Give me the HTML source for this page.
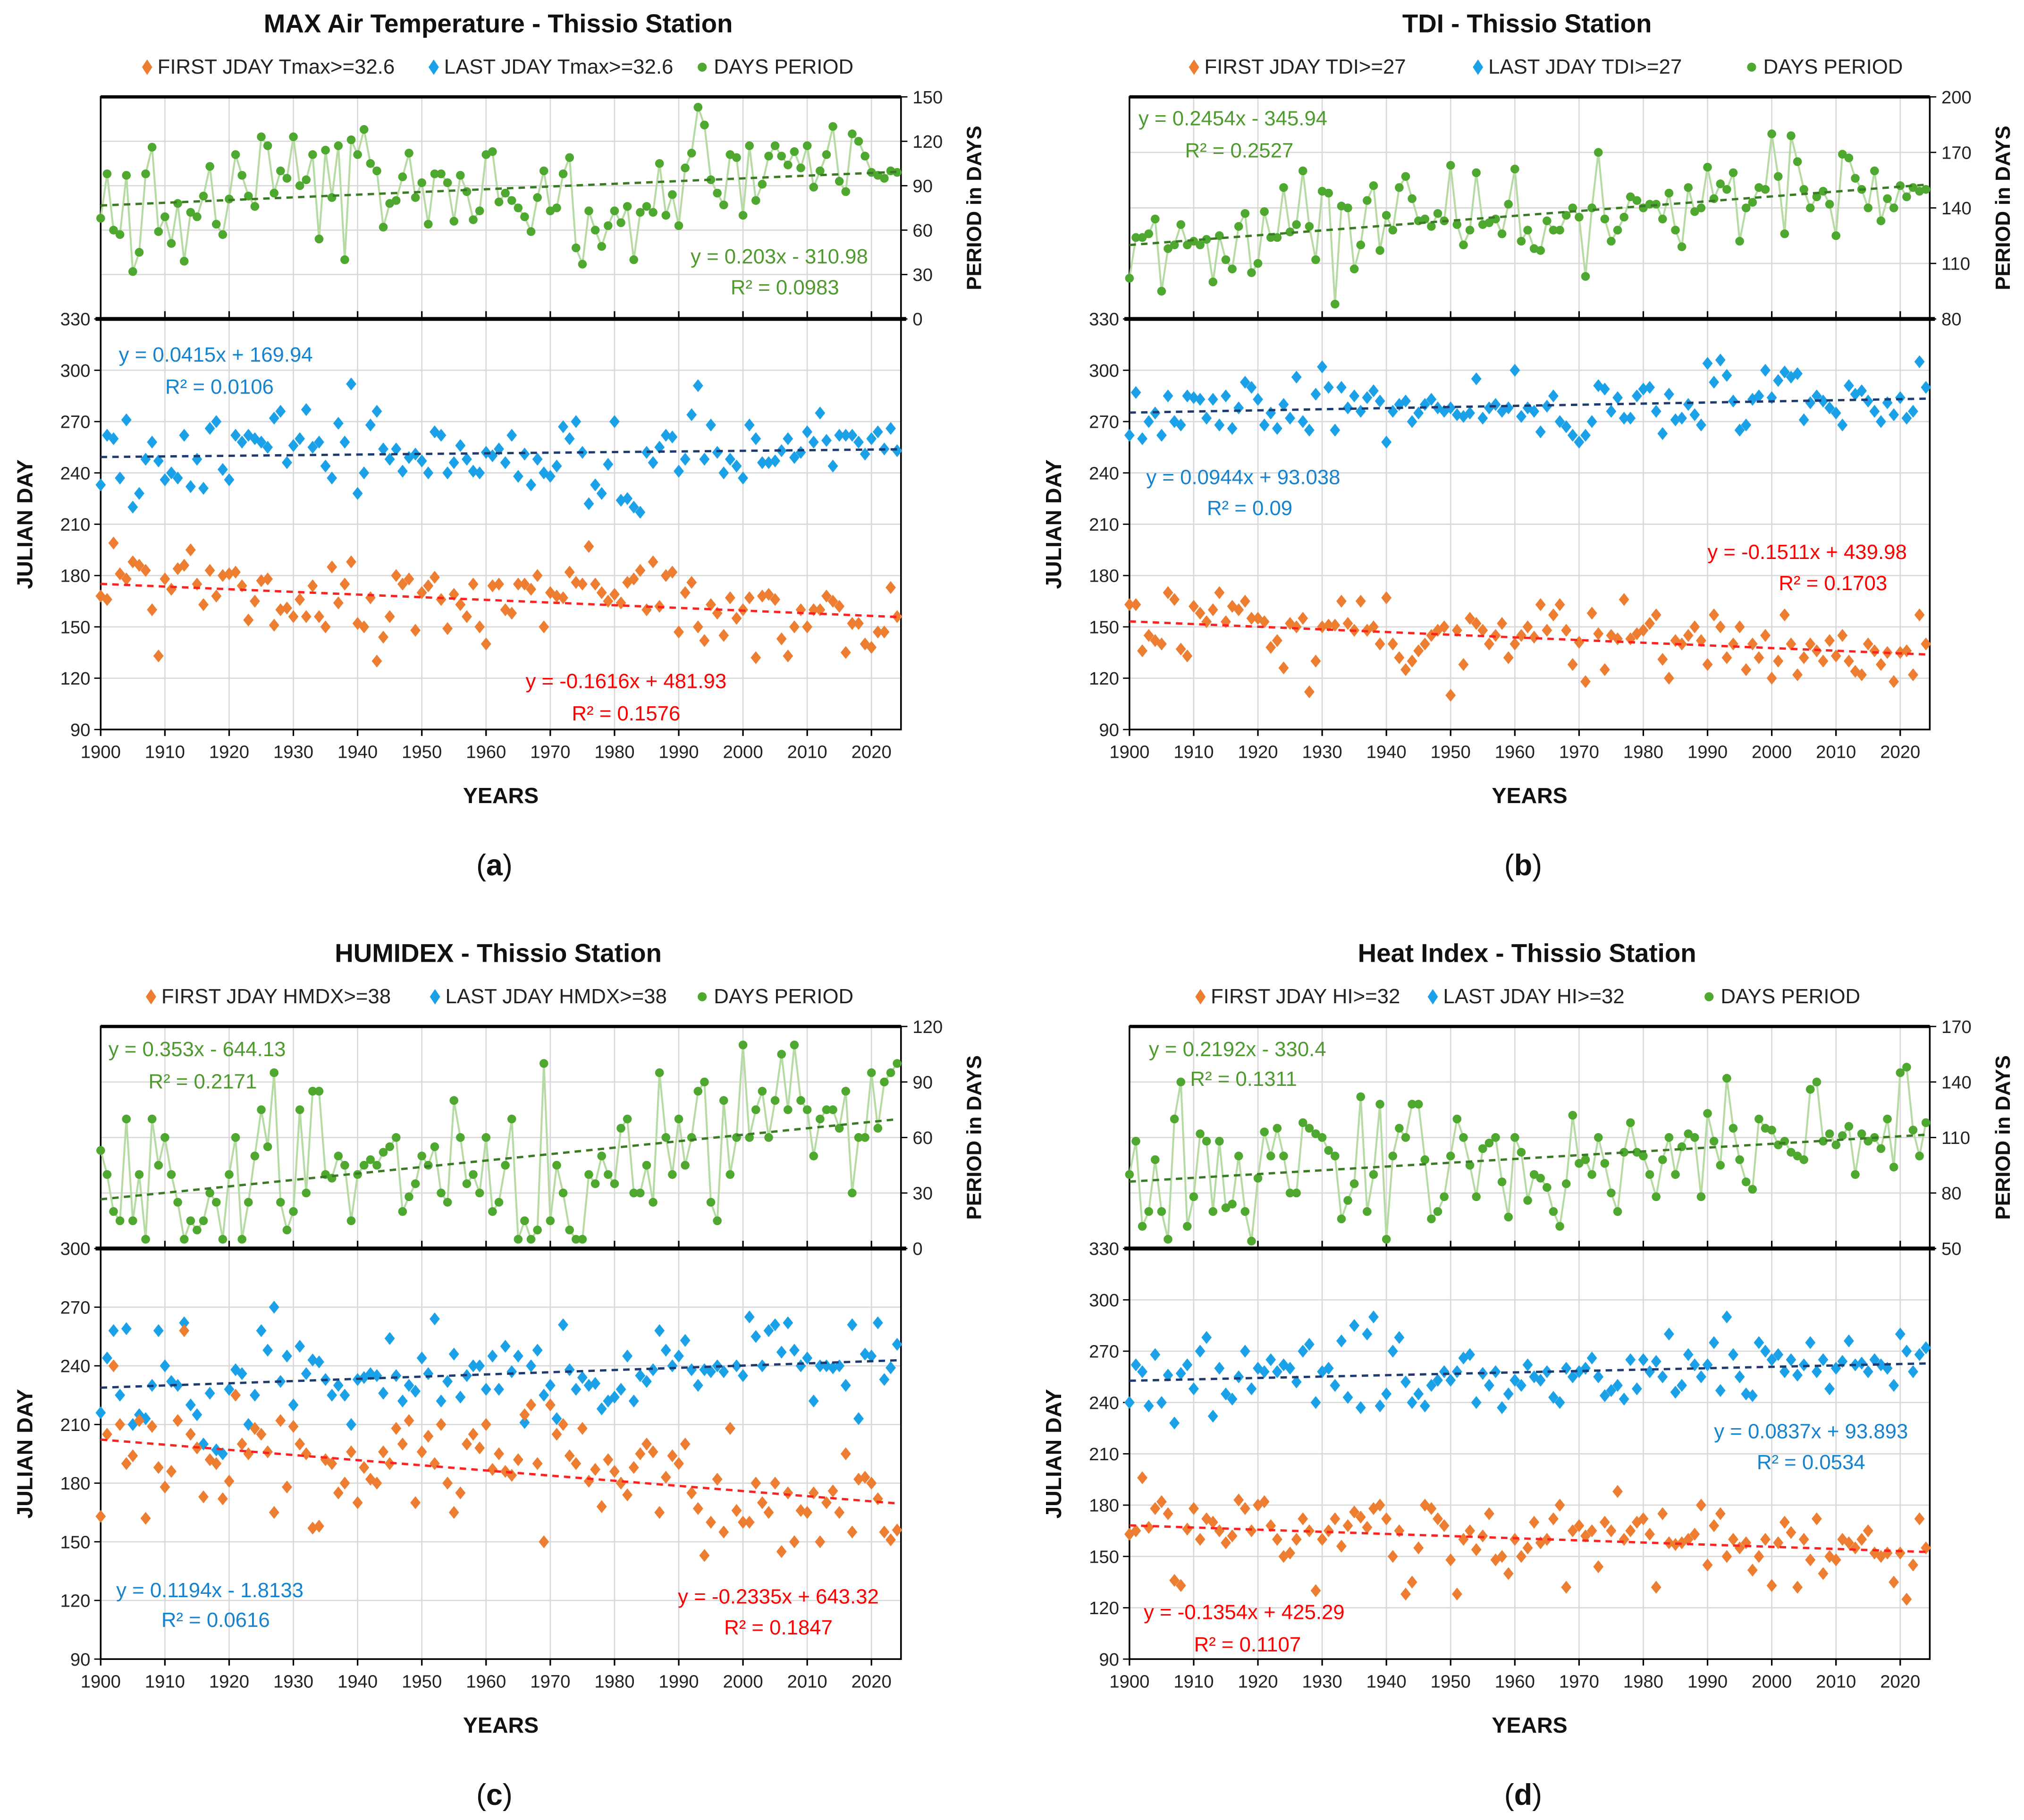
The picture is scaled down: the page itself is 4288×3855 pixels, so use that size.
<!DOCTYPE html>
<html><head><meta charset="utf-8"><style>
html,body{margin:0;padding:0;background:#fff}
svg{display:block}
text{font-family:"Liberation Sans",sans-serif}
</style></head><body>
<svg id="fig" width="4288" height="3855" viewBox="0 0 1568 1409.6" xmlns="http://www.w3.org/2000/svg"></svg>
<script>
// ---------- DATA (years 1900..2024) ----------
const years = Array.from({length:125},(_,i)=>1900+i);
const xTicks = [1900,1910,1920,1930,1940,1950,1960,1970,1980,1990,2000,2010,2020];

const aFirst = [168,166,199,181,178,188,186,183,160,133,178,172,184,186,195,175,163,183,168,180,181,182,174,154,165,177,178,151,160,161,156,166,156,174,156,150,185,164,175,188,152,150,167,130,144,156,180,175,178,148,170,174,179,166,149,169,163,156,175,150,140,174,175,160,158,175,175,172,180,150,170,168,167,182,176,175,197,175,170,165,169,164,176,178,183,160,188,162,180,182,147,170,176,150,142,163,158,145,167,155,160,167,132,168,169,166,143,133,150,160,150,160,160,168,165,162,135,152,152,140,138,147,147,173,156];
const aLast = [233,262,260,237,271,220,228,248,258,247,236,240,237,262,232,248,231,266,270,242,236,262,258,262,260,258,255,272,276,246,256,260,277,255,258,244,237,269,258,292,228,240,268,276,254,248,254,241,249,251,247,240,264,262,240,246,256,248,241,240,252,250,254,246,262,238,251,233,248,240,238,244,267,260,270,252,222,233,228,245,270,224,225,220,217,252,246,255,262,261,241,248,274,291,248,268,252,240,248,244,237,268,260,246,246,247,253,260,249,252,264,258,275,259,244,262,262,262,258,251,260,264,254,266,253];
const aPeriod = [68,98,60,57,97,32,45,98,116,59,69,51,78,39,72,69,83,103,64,57,81,111,97,83,76,123,117,85,100,95,123,90,94,111,54,114,82,117,40,121,111,128,105,100,62,78,80,96,112,82,92,64,98,98,92,66,97,86,67,73,111,113,79,85,80,75,69,59,82,100,73,75,98,109,48,37,73,60,49,63,73,65,76,40,72,76,72,105,70,84,63,102,112,143,131,94,85,77,111,109,70,117,80,91,110,117,110,104,113,102,117,89,100,111,130,93,86,125,120,110,99,97,95,100,99];

const bFirst = [163,163,136,145,142,140,170,166,137,133,162,158,153,160,170,153,162,160,165,155,155,153,138,142,126,152,150,155,112,130,150,151,151,165,152,148,165,148,150,140,167,140,132,125,130,136,140,145,148,150,110,148,128,155,152,148,140,145,152,132,140,145,150,144,163,148,157,163,148,128,141,118,158,146,125,145,143,166,143,146,148,152,157,131,120,142,140,145,150,142,128,157,150,132,140,150,125,140,132,145,120,130,157,140,122,132,140,136,130,142,133,145,130,124,122,140,136,128,135,118,135,136,122,157,140];
const bLast = [262,287,260,270,275,262,285,270,268,285,284,283,272,283,268,285,266,278,293,290,283,268,275,266,280,272,296,270,265,286,302,290,265,290,278,285,276,284,288,282,258,276,280,282,270,275,280,283,278,276,278,274,273,275,295,272,278,280,276,278,300,273,278,276,264,279,285,270,267,262,258,262,270,291,289,276,284,272,272,285,289,290,276,263,286,271,272,280,274,268,304,293,306,297,282,265,268,283,285,300,284,294,299,296,298,271,281,285,282,278,275,268,291,286,288,282,276,270,281,274,284,272,276,305,290];
const bPeriod = [102,124,124,126,134,95,118,120,131,120,122,120,123,100,125,112,107,130,137,105,110,138,124,124,151,127,131,160,130,112,149,148,88,141,140,107,120,144,152,117,136,128,151,157,145,133,134,130,137,133,163,131,120,128,159,131,132,134,126,142,161,122,128,118,117,133,128,128,136,140,135,103,140,170,134,122,128,135,146,144,140,142,142,134,148,128,119,151,138,140,162,145,153,150,159,122,140,143,151,150,180,157,126,179,165,150,140,146,149,142,125,169,167,156,150,140,160,133,145,140,152,146,151,149,150];

const cFirst = [163,205,240,210,190,194,212,162,209,188,178,186,212,258,205,198,173,192,190,172,181,225,200,195,208,205,196,165,212,178,209,200,195,157,158,192,190,175,180,196,170,188,182,180,196,190,208,200,212,170,196,204,190,210,180,165,175,200,205,198,210,187,195,186,184,192,215,220,190,150,220,205,210,194,190,208,181,187,168,192,186,180,174,188,195,200,196,165,183,194,190,200,175,167,143,160,182,155,208,166,160,160,180,170,165,180,145,175,150,166,165,175,150,170,176,165,195,155,182,183,180,172,155,151,156];
const cLast = [216,244,258,225,259,210,215,213,230,258,240,232,230,262,220,215,200,226,197,195,228,238,236,210,225,258,248,270,232,245,220,250,236,243,242,233,225,230,225,210,233,234,236,235,226,254,235,222,230,227,244,236,264,222,232,246,224,235,240,240,228,245,228,250,237,245,211,240,248,225,230,213,261,238,228,234,230,231,218,222,224,228,245,222,235,232,238,258,248,240,245,253,238,230,238,237,240,237,208,240,235,265,255,240,258,261,247,262,248,240,244,222,240,240,239,240,230,261,213,246,245,262,233,239,251];
const cPeriod = [53,40,20,15,70,15,40,5,70,45,60,40,25,5,15,10,15,30,25,5,40,60,5,25,50,75,55,95,25,10,20,75,30,85,85,40,38,50,45,15,40,45,48,45,52,55,60,20,28,35,50,45,55,30,25,80,60,35,40,30,60,20,25,45,70,5,15,5,10,100,15,45,30,10,5,5,40,35,50,40,35,65,70,30,30,45,25,95,60,40,70,45,60,85,90,25,15,80,40,60,110,60,75,85,60,80,105,75,110,80,75,50,70,75,75,65,85,30,60,60,95,65,90,95,100];

const dFirst = [163,165,196,167,178,182,175,136,133,166,178,160,172,170,165,158,162,183,178,165,180,182,168,160,150,152,160,172,165,130,160,165,172,156,168,176,173,167,178,180,172,150,165,128,135,155,180,178,172,168,148,128,160,165,154,162,175,148,150,140,160,150,155,170,158,160,172,180,132,165,168,162,165,144,170,165,188,160,165,170,172,163,132,175,158,157,158,160,163,180,145,168,175,150,160,155,158,142,150,160,133,158,170,164,132,160,148,172,140,150,148,160,158,155,160,165,152,150,152,135,152,125,145,172,155];
const dLast = [240,262,258,238,268,240,256,228,257,262,248,270,278,232,260,245,242,255,270,248,260,258,265,258,262,260,252,270,274,240,258,260,250,276,243,285,237,280,290,238,245,270,278,252,240,245,238,250,253,258,253,258,266,268,240,257,250,258,237,245,253,250,262,255,253,258,243,240,260,255,258,260,266,255,244,247,250,242,265,248,265,258,264,255,280,246,250,268,262,255,262,275,247,290,268,255,245,244,275,270,265,268,258,265,256,262,275,258,265,248,260,264,276,262,263,258,265,262,260,250,280,270,258,268,272];
const dPeriod = [90,108,62,70,98,70,55,120,140,62,78,112,108,70,108,72,74,100,70,54,88,113,100,115,100,80,80,118,115,112,110,103,100,66,76,85,132,70,90,128,55,100,115,110,128,128,98,66,70,78,100,120,110,95,78,104,107,110,86,67,110,102,76,90,88,83,70,62,85,122,96,98,90,110,96,80,70,102,118,102,100,90,78,98,110,90,105,112,110,78,123,108,95,142,115,98,86,82,120,115,114,106,108,102,100,98,136,140,108,112,106,111,116,90,112,108,110,104,120,94,145,148,114,100,118];

const aLeftTicks=[90,120,150,180,210,240,270,300,330], aRightTicks=[0,30,60,90,120,150];
const bLeftTicks=[90,120,150,180,210,240,270,300,330], bRightTicks=[80,110,140,170,200];
const cLeftTicks=[90,120,150,180,210,240,270,300], cRightTicks=[0,30,60,90,120];
const dLeftTicks=[90,120,150,180,210,240,270,300,330], dRightTicks=[50,80,110,140,170];

// ---------- RENDER ----------
const NS="http://www.w3.org/2000/svg";
const svg=document.getElementById('fig');
function el(tag,attrs,parent){const e=document.createElementNS(NS,tag);for(const k in attrs)e.setAttribute(k,attrs[k]);(parent||svg).appendChild(e);return e;}
function txt(s,attrs,parent){const e=el('text',attrs,parent);e.textContent=s;return e;}
function reg(xs,ys){const n=xs.length;let sx=0,sy=0,sxx=0,sxy=0;for(let i=0;i<n;i++){sx+=xs[i];sy+=ys[i];sxx+=xs[i]*xs[i];sxy+=xs[i]*ys[i];}const m=(n*sxy-sx*sy)/(n*sxx-sx*sx);const b=(sy-m*sx)/n;return {m,b};}

const ORANGE='#ED7D31',BLUE='#1BA1E8',GREEN='#4EA72E',LGREEN='#B5DBA3';

function panel(cfg){
  const g=el('g',{});
  
  
  const ox=cfg.ox, oy=cfg.oy;
  const L=78+ox, R=698+ox, T=75+oy, M=247+oy, B=565+oy;
  const xS=y=>L+(y-1900)*(R-L)/124.6;
  const yL=v=>B-(v-cfg.left[0])*(B-M)/(cfg.left[cfg.left.length-1]-cfg.left[0]);
  const yR=v=>M-(v-cfg.right[0])*(M-T)/(cfg.right[cfg.right.length-1]-cfg.right[0]);
  const t=txt(cfg.title,{x:(L+R)/2-2,y:25+oy,'text-anchor':'middle','font-size':20,'font-weight':'bold',fill:'#111'},g);
  
  const lg=el('g',{},g);
  
  const lx=cfg.legX;
  el('path',{d:`M${lx[0]} ${46+oy} l4 6 l-4 6 l-4 -6z`,fill:ORANGE},lg);
  txt(cfg.legs[0],{x:lx[0]+8,y:57+oy,'font-size':16,fill:'#222'},lg);
  el('path',{d:`M${lx[1]} ${46+oy} l4 6 l-4 6 l-4 -6z`,fill:BLUE},lg);
  txt(cfg.legs[1],{x:lx[1]+8,y:57+oy,'font-size':16,fill:'#222'},lg);
  el('circle',{cx:lx[2],cy:52+oy,r:3.5,fill:GREEN},lg);
  txt('DAYS PERIOD',{x:lx[2]+9,y:57+oy,'font-size':16,fill:'#222'},lg);
  const grid=el('g',{stroke:'#d9d9d9','stroke-width':1},g);
  
  xTicks.forEach(y=>{if(y>1900)el('line',{x1:xS(y),x2:xS(y),y1:T,y2:B},grid);});
  cfg.left.forEach(v=>{el('line',{x1:L,x2:R,y1:yL(v),y2:yL(v)},grid);});
  cfg.right.forEach(v=>{el('line',{x1:L,x2:R,y1:yR(v),y2:yR(v)},grid);});
  el('rect',{x:L,y:T,width:R-L,height:B-T,fill:'none',stroke:'#000','stroke-width':1.3},g);
  el('line',{x1:L,x2:R,y1:T,y2:T,stroke:'#000','stroke-width':2.5},g);
  el('line',{x1:L-4,x2:R+4,y1:M,y2:M,stroke:'#000','stroke-width':3},g);
  xTicks.forEach(y=>{el('line',{x1:xS(y),x2:xS(y),y1:M-6,y2:M,stroke:'#000','stroke-width':1.2},g);el('line',{x1:xS(y),x2:xS(y),y1:B,y2:B+5,stroke:'#000','stroke-width':1.2},g);
    const tl=txt(y,{x:xS(y),y:B+22,'text-anchor':'middle','font-size':14,fill:'#222'},g);});
  cfg.left.forEach(v=>{el('line',{x1:L-5,x2:L,y1:yL(v),y2:yL(v),stroke:'#000'},g);
    const tl=txt(v,{x:L-8,y:yL(v)+5,'text-anchor':'end','font-size':14,fill:'#222'},g);});
  cfg.right.forEach(v=>{el('line',{x1:R,x2:R+5,y1:yR(v),y2:yR(v),stroke:'#000'},g);
    const tl=txt(v,{x:R+9,y:yR(v)+5,'font-size':14,fill:'#222'},g);});
  const xt=txt('YEARS',{x:(L+R)/2,y:622+oy,'text-anchor':'middle','font-size':17,'font-weight':'bold',fill:'#111'},g);
  
  const ly=(M+B)/2;
  const yt=txt('JULIAN DAY',{x:25+ox,y:ly,'text-anchor':'middle','font-size':17,'font-weight':'bold',fill:'#111',transform:`rotate(-90 ${25+ox} ${ly})`},g);
  
  const ry=(T+M)/2;
  const rt=txt('PERIOD in DAYS',{x:760+ox,y:ry,'text-anchor':'middle','font-size':16,'font-weight':'bold',fill:'#111',transform:`rotate(-90 ${760+ox} ${ry})`},g);
  
  const ps=el('g',{},g);
  el('polyline',{points:years.map((y,i)=>xS(y)+','+yR(cfg.period[i])).join(' '),fill:'none',stroke:LGREEN,'stroke-width':1.5},ps);
  years.forEach((y,i)=>{const c=el('circle',{cx:xS(y),cy:yR(cfg.period[i]),r:3.4,fill:GREEN},ps);
    });
  function dia(arr,col,nm){const s=el('g',{},g);
    years.forEach((y,i)=>{const x=xS(y),yy=yL(arr[i]);const p=el('path',{d:`M${x} ${yy-5} L${x+4} ${yy} L${x} ${yy+5} L${x-4} ${yy}Z`,fill:col},s);
      });}
  dia(cfg.last,BLUE,'last-jday');dia(cfg.first,ORANGE,'first-jday');
  function trend(arr,ys,col,nm){const r=reg(years,arr);const y0=1900,y1=2024;
    const ln=el('line',{x1:xS(y0),y1:ys(r.m*y0+r.b),x2:xS(y1),y2:ys(r.m*y1+r.b),stroke:col,'stroke-width':1.8,'stroke-dasharray':'5,4'},g);
    }
  trend(cfg.period,yR,'#3A7A24','period-trendline');
  trend(cfg.last,yL,'#1F3A6E','last-trendline');
  trend(cfg.first,yL,'#FF2020','first-trendline');
  cfg.eqs.forEach(e=>{const a=txt(e[0],{x:e[2]+ox,y:e[3]+oy,'font-size':16,fill:e[1],'text-anchor':e[4]||'start'},g);
    });
  const lb=txt('',{x:(L+R)/2-5,y:678+oy,'text-anchor':'middle','font-size':23,'font-family':'Liberation Serif',fill:'#111'},g);
  
  const s1=el('tspan',{},lb);s1.textContent='(';const s2=el('tspan',{'font-weight':'bold'},lb);s2.textContent=cfg.label;const s3=el('tspan',{},lb);s3.textContent=')';
}
const GT='#4E9A2E',BT='#1583CF',RT='#FF0000';
panel({name:'panel-a-max-air-temperature',ox:0,oy:0,title:'MAX Air Temperature - Thissio Station',legs:['FIRST JDAY Tmax>=32.6','LAST JDAY Tmax>=32.6'],legX:[114,336,544],
  left:aLeftTicks,right:aRightTicks,first:aFirst,last:aLast,period:aPeriod,label:'a',
  eqs:[['y = 0.203x - 310.98',GT,535,204],['R² = 0.0983',GT,566,228],['y = 0.0415x + 169.94',BT,92,280],['R² = 0.0106',BT,128,305],['y = -0.1616x + 481.93',RT,485,533,'middle'],['R² = 0.1576',RT,485,558,'middle']]});
panel({name:'panel-b-tdi',ox:797,oy:0,title:'TDI - Thissio Station',legs:['FIRST JDAY TDI>=27','LAST JDAY TDI>=27'],legX:[925,1145,1357],
  left:bLeftTicks,right:bRightTicks,first:bFirst,last:bLast,period:bPeriod,label:'b',
  eqs:[['y = 0.2454x - 345.94',GT,85,97],['R² = 0.2527',GT,121,122],['y = 0.0944x + 93.038',BT,91,375],['R² = 0.09',BT,138,399],['y = -0.1511x + 439.98',RT,603,433,'middle'],['R² = 0.1703',RT,623,457,'middle']]});
panel({name:'panel-c-humidex',ox:0,oy:720,title:'HUMIDEX - Thissio Station',legs:['FIRST JDAY HMDX>=38','LAST JDAY HMDX>=38'],legX:[117,337,544],
  left:cLeftTicks,right:cRightTicks,first:cFirst,last:cLast,period:cPeriod,label:'c',
  eqs:[['y = 0.353x - 644.13',GT,84,98],['R² = 0.2171',GT,115,123],['y = 0.1194x - 1.8133',BT,90,517],['R² = 0.0616',BT,125,540],['y = -0.2335x + 643.32',RT,603,522,'middle'],['R² = 0.1847',RT,603,546,'middle']]});
panel({name:'panel-d-heat-index',ox:797,oy:720,title:'Heat Index - Thissio Station',legs:['FIRST JDAY HI>=32','LAST JDAY HI>=32'],legX:[930,1110,1324],
  left:dLeftTicks,right:dRightTicks,first:dFirst,last:dLast,period:dPeriod,label:'d',
  eqs:[['y = 0.2192x - 330.4',GT,93,98],['R² = 0.1311',GT,125,121],['y = 0.0837x + 93.893',BT,606,394,'middle'],['R² = 0.0534',BT,606,418,'middle'],['y = -0.1354x + 425.29',RT,89,534],['R² = 0.1107',RT,128,559]]});
</script>
</body></html>
